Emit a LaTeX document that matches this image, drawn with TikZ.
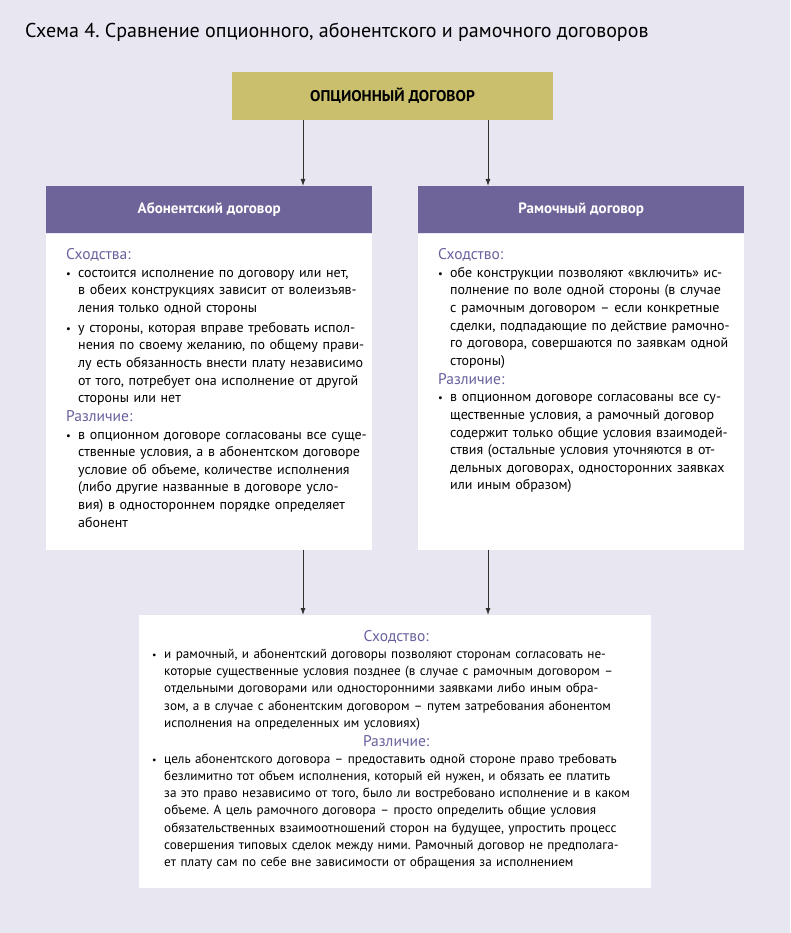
\documentclass[tikz,border=0pt]{standalone}
\usepackage{fontspec}
\setmainfont{PT Sans}
\usetikzlibrary{positioning,arrows.meta}
\definecolor{hinter}{RGB}{232,230,241}
\definecolor{oliv}{RGB}{201,191,108}
\definecolor{lila}{RGB}{110,100,153}
\definecolor{lilatext}{RGB}{104,98,158}
\definecolor{pfeilfarbe}{RGB}{50,48,48}
\frenchspacing
\newcommand{\ueber}[1]{{\color{lilatext}\fontsize{15.5}{18}\selectfont #1\par}}
\newcommand{\ueberz}[1]{{\centering\color{lilatext}\fontsize{15.5}{18}\selectfont #1\par}}
\newcommand{\punkt}[1]{\par\noindent\makebox[12pt][l]{\scalebox{0.75}{\textbullet}}\parbox[t]{560pt}{\raggedright #1}\par}
\newcommand{\luecke}{\vspace{6pt}}
\tikzset{optbox/.style={fill=oliv, minimum width=321pt, minimum height=48pt, inner sep=0pt, font=\bfseries\fontsize{15.5}{18}\selectfont},
  kopf/.style={fill=lila, text=white, minimum width=326pt, minimum height=47pt, inner sep=0pt, font=\bfseries\fontsize{15}{18}\selectfont},
  koerper/.style={fill=white, minimum width=326pt, inner sep=0pt},
  textblock/.style={anchor=north west, inner sep=0pt, align=left, font=\fontsize{14}{17.6}\selectfont},
  pfeil/.style={draw=pfeilfarbe, line width=0.9pt, -{Latex[length=7pt,width=5pt]}}}

\begin{document}
\begin{tikzpicture}[x=1pt,y=-1pt]
  \useasboundingbox (0,0) rectangle (790,933);
  \fill[hinter] (0,0) rectangle (790,933);
  \node[anchor=base west, inner sep=0pt, font=\fontsize{20}{24}\selectfont] (titel) at (25,38) {Схема 4. Сравнение опционного, абонентского и рамочного договоров};
  \node[optbox] (optdog) at (392.5,96) {ОПЦИОННЫЙ ДОГОВОР};
  \node[kopf, anchor=north west] (abonhead) at (46,186) {Абонентский договор};
  \node[kopf, anchor=north west] (ramhead) at (418,186) {Рамочный договор};
  \node[koerper, minimum height=316pt, below=0pt of abonhead] (abonbody) {};
  \node[koerper, minimum height=316pt, below=0pt of ramhead] (rambody) {};
  \node[koerper, minimum width=512pt, minimum height=273pt, anchor=north west] (summ) at (139,615) {};
  \coordinate (lx) at (303,0);
  \coordinate (rx) at (488,0);

  \node[textblock, text width=302pt] (abontext) at ([xshift=20pt,yshift=-15pt]abonbody.north west) {%
    \ueber{Сходства:}
    \punkt{состоится исполнение по договору или нет,\\
    в обеих конструкциях зависит от волеизъяв-\\
    ления только одной стороны}\luecke
    \punkt{у стороны, которая вправе требовать испол-\\
    нения по своему желанию, по общему прави-\\
    лу есть обязанность внести плату независимо\\
    от того, потребует она исполнение от другой\\
    стороны или нет}\vspace{4pt}
    \ueber{Различие:}
    \punkt{в опционном договоре согласованы все суще-\\
    ственные условия, а в абонентском договоре\\
    условие об объеме, количестве исполнения\\
    (либо другие названные в договоре усло-\\
    вия) в одностороннем порядке определяет\\
    абонент}};
  \node[textblock, text width=302pt] (ramtext) at ([xshift=20pt,yshift=-15pt]rambody.north west) {%
    \ueber{Сходство:}
    \punkt{обе конструкции позволяют «включить» ис-\\
    полнение по воле одной стороны (в случае\\
    с рамочным договором – если конкретные\\
    сделки, подпадающие по действие рамочно-\\
    го договора, совершаются по заявкам одной\\
    стороны)}\vspace{4pt}
    \ueber{Различие:}
    \punkt{в опционном договоре согласованы все су-\\
    щественные условия, а рамочный договор\\
    содержит только общие условия взаимодей-\\
    ствия (остальные условия уточняются в от-\\
    дельных договорах, односторонних заявках\\
    или иным образом)}};
  \node[textblock, text width=488pt, font=\fontsize{13.2}{17.2}\selectfont] (summtext) at ([xshift=13pt,yshift=-15pt]summ.north west) {%
    \ueberz{Сходство:}
    \punkt{и рамочный, и абонентский договоры позволяют сторонам согласовать не-\\
    которые существенные условия позднее (в случае с рамочным договором –\\
    отдельными договорами или односторонними заявками либо иным обра-\\
    зом, а в случае с абонентским договором – путем затребования абонентом\\
    исполнения на определенных им условиях)}\vspace{4pt}
    \ueberz{Различие:}
    \punkt{цель абонентского договора – предоставить одной стороне право требовать\\
    безлимитно тот объем исполнения, который ей нужен, и обязать ее платить\\
    за это право независимо от того, было ли востребовано исполнение и в каком\\
    объеме. А цель рамочного договора – просто определить общие условия\\
    обязательственных взаимоотношений сторон на будущее, упростить процесс\\
    совершения типовых сделок между ними. Рамочный договор не предполага-\\
    ет плату сам по себе вне зависимости от обращения за исполнением}};

  \draw[pfeil] (optdog.south -| lx) -- (abonhead.north -| lx);
  \draw[pfeil] (optdog.south -| rx) -- (ramhead.north -| rx);
  \draw[pfeil] (abonbody.south -| lx) -- (summ.north -| lx);
  \draw[pfeil] (rambody.south -| rx) -- (summ.north -| rx);
\end{tikzpicture}
\end{document}
